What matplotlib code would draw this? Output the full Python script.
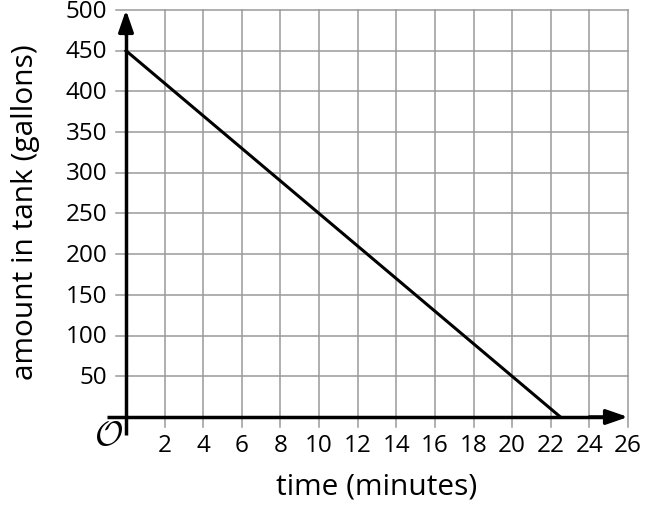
import matplotlib
matplotlib.use("Agg")
import matplotlib.pyplot as plt

plt.rcParams['font.family'] = ['Open Sans', 'DejaVu Sans']
plt.rcParams['mathtext.fontset'] = 'cm'

time_min = [0, 22.5]
gallons = [450, 0]
x_ticks = [2, 4, 6, 8, 10, 12, 14, 16, 18, 20, 22, 24, 26]
y_ticks = [50, 100, 150, 200, 250, 300, 350, 400, 450, 500]

fig = plt.figure(figsize=(6.52, 5.11), dpi=100)
ax = fig.add_axes([126/652, 1-417/511, (628-126)/652, (417-10)/511])
ax.set_xlim(0, 26)
ax.set_ylim(0, 500)
for s in ax.spines.values():
    s.set_visible(False)

grid_kw = dict(color='#9a9a9a', lw=1.1, clip_on=False, zorder=1)
for xv in x_ticks:
    ax.plot([xv, xv], [-12, 500], **grid_kw)
for yv in y_ticks:
    ax.plot([-0.5, 26], [yv, yv], **grid_kw)

# axes with arrows
ax.plot([-1.0, 25], [0, 0], color='black', lw=2.5, clip_on=False, zorder=3, solid_capstyle='butt')
ax.plot([0, 0], [-22, 480], color='black', lw=2.5, clip_on=False, zorder=3, solid_capstyle='butt')
ax.annotate('', xy=(26, 0), xytext=(24, 0),
            arrowprops=dict(arrowstyle='-|>,head_length=1.3,head_width=0.45', color='black', lw=2.5,
                            shrinkA=0, shrinkB=0), annotation_clip=False, zorder=4)
ax.annotate('', xy=(0, 500), xytext=(0, 470),
            arrowprops=dict(arrowstyle='-|>,head_length=1.3,head_width=0.45', color='black', lw=2.5,
                            shrinkA=0, shrinkB=0), annotation_clip=False, zorder=4)

ax.plot(time_min, gallons, color='black', lw=2.2, zorder=5, clip_on=False)

ax.set_xticks([])
ax.set_yticks([])
for xv in x_ticks:
    ax.text(xv, -43, str(xv), ha='center', va='baseline', fontsize=17.5)
for yv in y_ticks:
    ax.text(-0.98, yv - 2, str(yv), ha='right', va='center', fontsize=17.5)
ax.text(-0.9, -23, r'$\mathcal{O}$', ha='center', va='center', fontsize=25)

ax.text(13, -86, 'time (minutes)', ha='center', va='center', fontsize=21.5)
ax.text(-5.2, 252, 'amount in tank (gallons)', ha='center', va='center', rotation=90, fontsize=21.5)

fig.savefig('out.png', dpi=100)
